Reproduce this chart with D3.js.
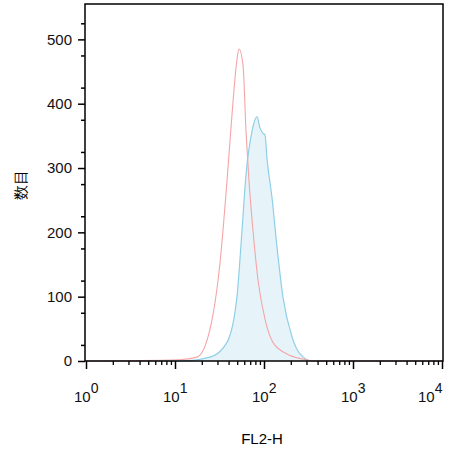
<!DOCTYPE html><html><head><meta charset="utf-8"><script src="https://cdn.jsdelivr.net/npm/d3@7"></script>
<style>body{margin:0;background:#fff}text{font-family:"Liberation Sans",Arial,sans-serif}</style></head><body><svg id="c" width="450" height="450"></svg>
<script>
const redX=[1,11.1,17.7,24.7,32.0,38.4,43.7,49.7,52.4,58.1,62.8,67.8,75.2,85.6,102.6,126,181,274,355,10000];
const redY=[0,2,6,49,152,280,383,469,485,460,357,280,203,126,65,29,11,3,0,0];
const blueX=[1,11.4,24.7,38.4,49.7,56.6,62.8,73.3,83.4,90.2,97.5,102.6,108,123,140,163,206,254,346,10000];
const blueY=[0,0,6,29,100,203,290,357,380,362,354,352,315,254,177,100,38,11,0,0];
const yTicks=[0,100,200,300,400,500];
const xTicks=[1,10,100,1000,10000];
const svg=d3.select("#c");
const L=85,R=443,T=4,B=361;
const x=d3.scaleLog().domain([1,10000]).range([86,442]);
const y=d3.scaleLinear().domain([0,555]).range([B,T]);
const area=d3.area().x((d,i)=>x(d[0])).y0(B).y1(d=>y(d[1])).curve(d3.curveMonotoneX);
const line=d3.line().x(d=>x(d[0])).y(d=>y(d[1])).curve(d3.curveMonotoneX);
const blue=blueX.map((v,i)=>[v,blueY[i]]), red=redX.map((v,i)=>[v,redY[i]]);
svg.append("path").attr("d",area(blue)).attr("fill","#e6f4fa");
svg.append("path").attr("d",line(blue)).attr("fill","none").attr("stroke","#8fcfe6").attr("stroke-width",1.2);
svg.append("path").attr("d",line(red)).attr("fill","none").attr("stroke","#f5a5a8").attr("stroke-width",1.1);
svg.append("rect").attr("x",L).attr("y",T).attr("width",R-L).attr("height",B-T).attr("fill","none").attr("stroke","#000").attr("stroke-width",1.5);
const ya=svg.append("g").attr("transform",`translate(${L},0)`).call(d3.axisLeft(y).tickValues(yTicks).tickSize(7).tickPadding(6));
ya.select(".domain").remove();
ya.selectAll("text").attr("font-size",15).attr("fill","#111");
ya.selectAll("line").attr("stroke-width",1.5);
const ym=svg.append("g").attr("transform",`translate(${L},0)`).call(d3.axisLeft(y).tickValues(d3.range(25,555,50)).tickSize(4).tickFormat(""));
ym.select(".domain").remove(); ym.selectAll("line").attr("stroke-width",1.5);
const xa=svg.append("g").attr("transform",`translate(0,${B})`).call(d3.axisBottom(x).tickValues(xTicks).tickSize(8).tickFormat(""));
xa.select(".domain").remove(); xa.selectAll("line").attr("stroke-width",1.5);
const minors=[];for(let e=0;e<4;e++)for(let k=2;k<10;k++)minors.push(k*10**e);
const xm=svg.append("g").attr("transform",`translate(0,${B})`).call(d3.axisBottom(x).tickValues(minors).tickSize(4).tickFormat(""));
xm.select(".domain").remove(); xm.selectAll("line").attr("stroke-width",1.3);
xTicks.forEach((v,i)=>{
 const t=svg.append("text").attr("x",i===4?x(v)-24:x(v)-12).attr("y",402).attr("font-size",15).attr("fill","#111");
 t.append("tspan").text("10");
 t.append("tspan").attr("dy",-9).attr("font-size",14).text(i);
});
svg.append("text").attr("x",262).attr("y",444).attr("text-anchor","middle").attr("font-size",15).text("FL2-H");
svg.append("text").attr("transform","translate(26,185) rotate(-90)").attr("text-anchor","middle").attr("font-size",15).attr("font-family","Noto Sans CJK SC").text("数目");
</script></body></html>
